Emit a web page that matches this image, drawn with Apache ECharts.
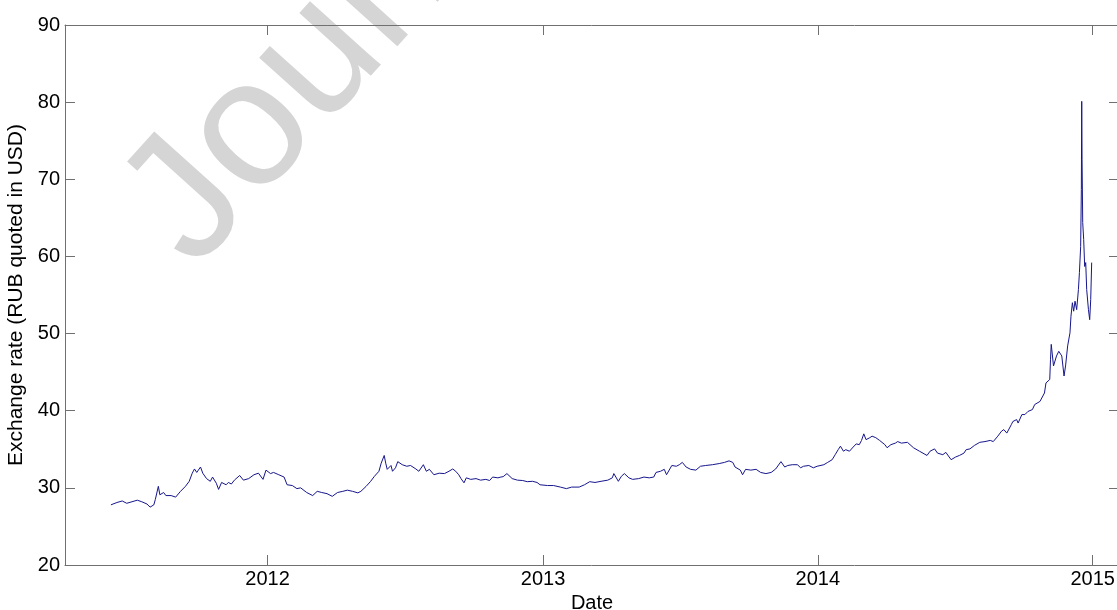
<!DOCTYPE html>
<html>
<head>
<meta charset="utf-8">
<script src="https://cdn.jsdelivr.net/npm/echarts@6/dist/echarts.min.js"></script>
<style>
  html, body { margin: 0; padding: 0; background: #fff; overflow: hidden; }
  #chart { width: 1117px; height: 610px; }
</style>
</head>
<body>
<div id="chart"></div>
<script>
// RUB/USD exchange rate, June 2011 – December 2014
const dates = [
  '2011-06-07','2011-06-15','2011-06-22','2011-06-28','2011-07-05','2011-07-12','2011-07-18','2011-07-25',
  '2011-07-29','2011-08-03','2011-08-05','2011-08-09','2011-08-11','2011-08-16','2011-08-19','2011-08-26',
  '2011-09-01','2011-09-07','2011-09-14','2011-09-19','2011-09-23','2011-09-26','2011-09-29','2011-10-04',
  '2011-10-07','2011-10-12','2011-10-17','2011-10-20','2011-10-25','2011-10-28','2011-11-01','2011-11-07',
  '2011-11-10','2011-11-14','2011-11-18','2011-11-25','2011-11-30','2011-12-07','2011-12-14','2011-12-20',
  '2011-12-26','2011-12-30',
  '2012-01-05','2012-01-09','2012-01-16','2012-01-23','2012-01-27','2012-02-03','2012-02-09','2012-02-14',
  '2012-02-16','2012-02-22','2012-03-01','2012-03-07','2012-03-13','2012-03-20','2012-03-27','2012-04-03',
  '2012-04-10','2012-04-16','2012-04-23','2012-04-30','2012-05-04','2012-05-11','2012-05-17','2012-05-22',
  '2012-05-28','2012-05-31','2012-06-04','2012-06-06','2012-06-08','2012-06-13','2012-06-15','2012-06-19',
  '2012-06-22','2012-06-28','2012-07-04','2012-07-09','2012-07-16','2012-07-20','2012-07-26','2012-07-30',
  '2012-08-03','2012-08-09','2012-08-16','2012-08-23','2012-08-29','2012-09-03','2012-09-07','2012-09-11',
  '2012-09-14','2012-09-18','2012-09-21','2012-09-27','2012-10-04','2012-10-10','2012-10-17','2012-10-22',
  '2012-10-26','2012-11-02','2012-11-06','2012-11-09','2012-11-14','2012-11-21','2012-11-28','2012-12-05',
  '2012-12-11','2012-12-18','2012-12-24','2012-12-28',
  '2013-01-07','2013-01-15','2013-01-24','2013-02-01','2013-02-08','2013-02-18','2013-02-25','2013-03-04',
  '2013-03-11','2013-03-19','2013-03-28','2013-04-03','2013-04-05','2013-04-11','2013-04-15','2013-04-19',
  '2013-04-25','2013-04-30','2013-05-08','2013-05-15','2013-05-22','2013-05-28','2013-05-31','2013-06-06',
  '2013-06-11','2013-06-14','2013-06-21','2013-06-27','2013-07-01','2013-07-05','2013-07-10','2013-07-16',
  '2013-07-23','2013-07-29','2013-08-05','2013-08-14','2013-08-23','2013-08-30','2013-09-05','2013-09-10',
  '2013-09-13','2013-09-20','2013-09-23','2013-09-27','2013-10-04','2013-10-11','2013-10-17','2013-10-24',
  '2013-10-31','2013-11-06','2013-11-13','2013-11-18','2013-11-22','2013-11-28','2013-12-05','2013-12-09',
  '2013-12-13','2013-12-20','2013-12-26','2013-12-31',
  '2014-01-09','2014-01-14','2014-01-20','2014-01-24','2014-01-28','2014-01-31','2014-02-04','2014-02-07',
  '2014-02-12','2014-02-17','2014-02-21','2014-02-25','2014-02-28','2014-03-03','2014-03-06','2014-03-11',
  '2014-03-14','2014-03-19','2014-03-24','2014-03-31','2014-04-03','2014-04-08','2014-04-14','2014-04-17',
  '2014-04-22','2014-04-30','2014-05-08','2014-05-16','2014-05-26','2014-05-30','2014-06-05','2014-06-09',
  '2014-06-16','2014-06-20','2014-06-27','2014-07-03','2014-07-08','2014-07-14','2014-07-17','2014-07-22',
  '2014-07-28','2014-08-04','2014-08-11','2014-08-18','2014-08-22','2014-08-28','2014-09-02','2014-09-05',
  '2014-09-09','2014-09-15','2014-09-17','2014-09-22','2014-09-24','2014-09-29','2014-10-03','2014-10-07',
  '2014-10-13','2014-10-16','2014-10-17','2014-10-23','2014-10-24','2014-10-29','2014-10-31','2014-11-05',
  '2014-11-06','2014-11-07','2014-11-10','2014-11-14','2014-11-17','2014-11-21','2014-11-24','2014-11-26',
  '2014-11-28 19:00','2014-12-01 21:00','2014-12-03 05:00','2014-12-05 02:00','2014-12-06 19:00',
  '2014-12-08 14:00','2014-12-10 19:00','2014-12-13 02:00','2014-12-14 10:00','2014-12-16 02:00',
  '2014-12-17 00:00','2014-12-17 12:00','2014-12-17 22:00','2014-12-18 19:00','2014-12-20 02:00',
  '2014-12-21 10:00','2014-12-22 19:00','2014-12-24 02:00','2014-12-26 10:00','2014-12-28 02:00',
  '2014-12-29 10:00','2014-12-30 17:00'
];

const rates = [
  27.8, 28.1, 28.3, 28.0, 28.2, 28.4, 28.2, 27.9,
  27.5, 27.8, 28.5, 30.2, 29.1, 29.4, 29.0, 29.0,
  28.8, 29.5, 30.2, 30.85, 31.9, 32.45, 32.0, 32.7,
  31.9, 31.2, 30.85, 31.4, 30.6, 29.8, 30.7, 30.4,
  30.7, 30.5, 31.0, 31.6, 31.0, 31.2, 31.7, 31.9,
  31.1, 32.3,
  31.85, 32.0, 31.7, 31.4, 30.4, 30.3, 29.9, 30.0,
  30.2, 29.4, 29.0, 29.55, 29.4, 29.25, 28.9, 29.4,
  29.55, 29.7, 29.55, 29.35, 29.55, 30.2, 30.85, 31.5,
  32.15, 33.2, 34.2, 33.2, 32.4, 32.9, 32.15, 32.6,
  33.4, 33.0, 32.8, 32.9, 32.45, 32.15, 33.0, 32.15,
  32.4, 31.7, 31.9, 31.85, 32.15, 32.45, 32.15, 31.7,
  31.2, 30.65, 31.3, 31.1, 31.2, 31.0, 31.1, 30.95,
  31.4, 31.3, 31.4, 31.45, 31.85, 31.2, 31.0, 30.95,
  30.8, 30.85, 30.7, 30.4,
  30.3, 30.3, 30.1, 29.9, 30.1, 30.1, 30.4, 30.8,
  30.7, 30.85, 31.0, 31.3, 31.85, 30.85, 31.5, 31.85,
  31.3, 31.1, 31.2, 31.4, 31.3, 31.4, 32.0, 32.15,
  32.4, 31.7, 32.9, 32.8, 33.0, 33.3, 32.7, 32.4,
  32.3, 32.8, 32.9, 33.0, 33.15, 33.3, 33.5, 33.3,
  32.7, 32.3, 31.7, 32.4, 32.3, 32.4, 32.0, 31.85,
  32.0, 32.45, 33.4, 32.7, 32.9, 33.0, 33.0, 32.6,
  32.8, 32.9, 32.6, 32.8,
  33.0, 33.3, 33.65, 34.3, 34.95, 35.4, 34.75, 34.95,
  34.75, 35.3, 35.7, 35.6, 36.15, 37.0, 36.25, 36.5,
  36.7, 36.5, 36.15, 35.6, 35.2, 35.6, 35.8, 36.0,
  35.8, 35.9, 35.2, 34.75, 34.2, 34.75, 35.05, 34.5,
  34.3, 34.6, 33.65, 34.0, 34.2, 34.5, 34.95, 35.05,
  35.5, 35.9, 36.0, 36.15, 36.0, 36.7, 37.35, 37.55,
  37.1, 38.2, 38.6, 38.85, 38.4, 39.5, 39.5, 39.9,
  40.15, 40.8, 41.0, 41.2, 41.45, 42.3, 43.6, 44.05,
  46.6, 48.6, 45.8, 47.1, 47.7, 47.1, 44.5, 45.8,
  48.4, 50.1, 52.25, 54.0, 52.9,
  54.2, 53.1, 55.7, 57.9, 61.3,
  68.7, 80.1, 72.6, 64.4, 62.2,
  58.7, 59.2, 55.7, 53.1, 51.8,
  54.4, 59.2
];

const xRange = ['2011-04-07', '2015-02-05'];
const yearTicks = ['2012-01-01', '2013-01-01', '2014-01-01', '2015-01-01'];
const yRange = [20, 90];
const yStep = 10;

// 'YYYY-MM-DD' or 'YYYY-MM-DD HH:mm' -> UTC milliseconds
function toTime(s) {
  const m = s.match(/(\d+)-(\d+)-(\d+)(?:\s+(\d+):(\d+))?/);
  return Date.UTC(+m[1], +m[2] - 1, +m[3], m[4] ? +m[4] : 0, m[5] ? +m[5] : 0);
}

const FONT = '"Liberation Sans", Arial, Helvetica, sans-serif';
const AXIS_COLOR = '#707070';
const tickTimes = yearTicks.map(toTime);
const xMin = toTime(xRange[0]);
const xMax = toTime(xRange[1]);

const chart = echarts.init(document.getElementById('chart'), null, { renderer: 'canvas' });

const boxAxisX = (pos, labels) => ({
  type: 'value',
  position: pos,
  min: xMin,
  max: xMax,
  scale: true,
  axisLine: { show: true, onZero: false, lineStyle: { color: AXIS_COLOR, width: 1 } },
  axisTick: { show: true, inside: true, length: 10, customValues: tickTimes, lineStyle: { color: AXIS_COLOR } },
  axisLabel: {
    show: labels,
    customValues: tickTimes,
    formatter: v => String(new Date(v).getUTCFullYear()),
    fontSize: 20, fontFamily: FONT, color: '#000', margin: 4
  },
  splitLine: { show: false }
});

const boxAxisY = (pos, labels) => ({
  type: 'value',
  position: pos,
  min: yRange[0],
  max: yRange[1],
  interval: yStep,
  axisLine: { show: true, onZero: false, lineStyle: { color: AXIS_COLOR, width: 1 } },
  axisTick: { show: true, inside: true, length: 10, lineStyle: { color: AXIS_COLOR } },
  axisLabel: { show: labels, fontSize: 20, fontFamily: FONT, color: '#000', margin: 5 },
  splitLine: { show: false }
});

const xBottom = Object.assign(boxAxisX('bottom', true), {
  name: 'Date',
  nameLocation: 'middle',
  nameGap: 27,
  nameTextStyle: { fontSize: 20, fontFamily: FONT, color: '#000' }
});
const yLeft = Object.assign(boxAxisY('left', true), {
  name: 'Exchange rate (RUB quoted in USD)',
  nameLocation: 'middle',
  nameGap: 28,
  nameTextStyle: { fontSize: 21, fontFamily: FONT, color: '#000' }
});

chart.setOption({
  animation: false,
  backgroundColor: '#fff',
  grid: {
    left: 65, top: 25, width: 1054, height: 540,
    containLabel: false,
    outerBoundsMode: 'none'
  },
  xAxis: [xBottom, boxAxisX('top', false)],
  yAxis: [yLeft, boxAxisY('right', false)],
  graphic: [{
    type: 'text',
    z: -10,
    silent: true,
    x: 158,
    y: 238,
    rotation: 48 * Math.PI / 180,
    style: {
      text: 'Journal Pre-proof',
      fontSize: 180,
      fontFamily: FONT,
      fill: '#d5d5d5',
      align: 'left',
      verticalAlign: 'middle'
    }
  }],
  series: [{
    type: 'line',
    xAxisIndex: 0,
    yAxisIndex: 0,
    data: dates.map((d, i) => [toTime(d), rates[i]]),
    showSymbol: false,
    symbol: 'none',
    lineStyle: { color: '#16168c', width: 1 },
    emphasis: { disabled: true },
    z: 3
  }]
});
</script>
</body>
</html>
